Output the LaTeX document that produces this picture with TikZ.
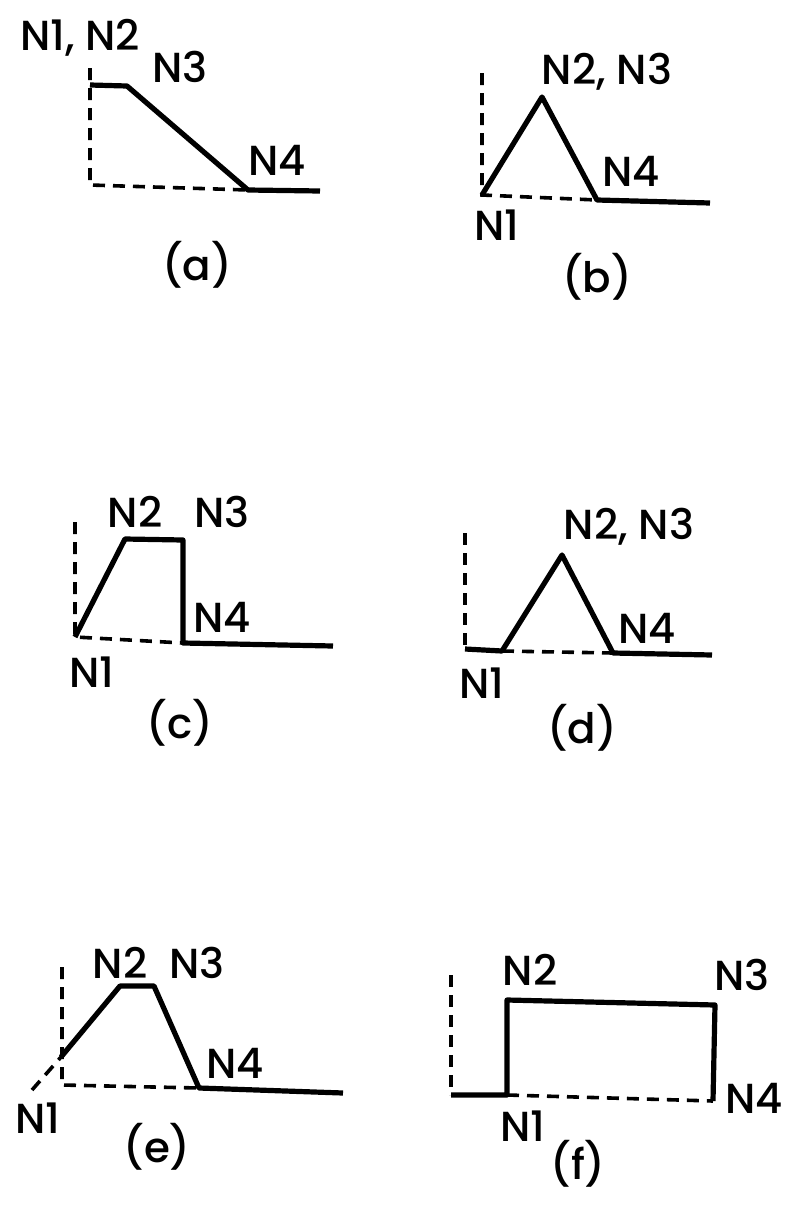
\documentclass[tikz,border=0pt]{standalone}
\usepackage{fontspec}
\setmainfont{Poppins}[BoldFont={* Medium}]
\usetikzlibrary{positioning}

\begin{document}
\begin{tikzpicture}[x=0.5pt,y=-0.5pt, every node/.style={font=\fontsize{21}{25}\selectfont\bfseries,inner sep=0pt},
  prof/.style={line width=2.6pt,line join=round}, axis/.style={line width=1.8pt,dash pattern=on 6pt off 4pt}]
\useasboundingbox (0,0) rectangle (791,1205);
% (a)
\coordinate (a0) at (90,68); \coordinate (a2) at (90,85); \coordinate (a3) at (127,86); \coordinate (a4) at (248,190); \coordinate (aE) at (320,191); \coordinate (aB) at (90,185);
\draw[axis] (a0)--(aB)--(a4);
\draw[prof] (a2)--(a3)--(a4)--(aE);
\node (aN12) at (80,38) {N1, N2};
\node (aN3) at (180,67) {N3};
\node (aN4) at (277,160) {N4};
\node (acap) at (197,265) {(a)};
% (b)
\coordinate (b0) at (482,73); \coordinate (b1) at (482,195); \coordinate (b2) at (542,97); \coordinate (b4) at (597,200); \coordinate (bE) at (710,203);
\draw[axis] (b0)--(b1)--(b4);
\draw[prof] (b1)--(b2)--(b4)--(bE);
\node (bN23) at (607,72) {N2, N3};
\node (bN4) at (631,171) {N4};
\node (bN1) at (497,225) {N1};
\node (bcap) at (597,277) {(b)};
% (c)
\coordinate (c0) at (75,522); \coordinate (c1) at (75,637); \coordinate (c2) at (125,539); \coordinate (c3) at (183,540); \coordinate (c4) at (183,643); \coordinate (cE) at (333,646);
\draw[axis] (c0)--(c1)--(c4);
\draw[prof] (c1)--(c2)--(c3)--(c4)--(cE);
\node (cN2) at (135,512) {N2};
\node (cN3) at (222,512) {N3};
\node (cN4) at (222,617) {N4};
\node (cN1) at (92,672) {N1};
\node (ccap) at (180,723) {(c)};
% (d)
\coordinate (d0) at (465,533); \coordinate (dB) at (465,649); \coordinate (d1) at (502,651); \coordinate (d2) at (562,555); \coordinate (d4) at (613,653); \coordinate (dE) at (712,655);
\draw[axis] (d0)--(dB);
\draw[axis] (d1)--(d4);
\draw[prof] (dB)--(d1)--(d2)--(d4)--(dE);
\node (dN23) at (629,527) {N2, N3};
\node (dN4) at (647,628) {N4};
\node (dN1) at (482,683) {N1};
\node (dcap) at (582,728) {(d)};
% (e)
\coordinate (e0) at (62,967); \coordinate (eB) at (62,1085); \coordinate (eX) at (61,1057); \coordinate (e1) at (32,1090);
\coordinate (e2) at (120,986); \coordinate (e3) at (154,986); \coordinate (e4) at (199,1088); \coordinate (eE) at (343,1093);
\draw[axis] (e0)--(eB)--(e4);
\draw[axis] (e1)--(eX);
\draw[prof] (eX)--(e2)--(e3)--(e4)--(eE);
\node (eN2) at (120,963) {N2};
\node (eN3) at (197,963) {N3};
\node (eN4) at (235,1063) {N4};
\node (eN1) at (38,1118) {N1};
\node (ecap) at (157,1147) {(e)};
% (f)
\coordinate (f0) at (451,975); \coordinate (fB) at (451,1095); \coordinate (f1) at (507,1095); \coordinate (f2) at (507,1000); \coordinate (f3) at (715,1005); \coordinate (f4) at (713,1101);
\draw[axis] (f0)--(fB);
\draw[axis] (f1)--(f4);
\draw[prof] (fB)--(f1)--(f2)--(f3)--(f4);
\node (fN2) at (530,970) {N2};
\node (fN3) at (742,975) {N3};
\node (fN4) at (754,1098) {N4};
\node (fN1) at (523,1126) {N1};
\node (fcap) at (578,1164) {(f)};
\end{tikzpicture}
\end{document}
